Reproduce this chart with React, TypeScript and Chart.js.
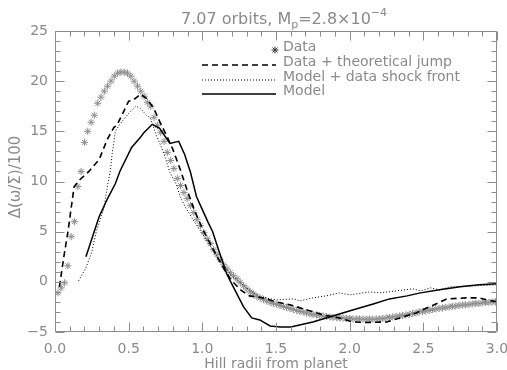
import React, { useEffect, useRef } from 'react';
import { Chart, registerables } from 'chart.js';

Chart.register(...registerables);

// ---- data ----
const DATA_X = [
  0.020, 0.042, 0.065, 0.087, 0.110, 0.132, 0.155, 0.177, 0.200, 0.222,
  0.245, 0.267, 0.290, 0.312, 0.335, 0.357, 0.380, 0.402, 0.425, 0.447,
  0.470, 0.492, 0.515, 0.537, 0.560, 0.582, 0.605, 0.627, 0.650, 0.672,
  0.695, 0.717, 0.740, 0.762, 0.785, 0.807, 0.830, 0.852, 0.875, 0.897,
  0.920, 0.942, 0.965, 0.987, 1.010, 1.032, 1.055, 1.077, 1.100, 1.122,
  1.145, 1.167, 1.190, 1.212, 1.235, 1.257, 1.280, 1.302, 1.325, 1.347,
  1.370, 1.392, 1.415, 1.437, 1.460, 1.482, 1.505, 1.527, 1.550, 1.572,
  1.595, 1.617, 1.640, 1.662, 1.685, 1.707, 1.730, 1.752, 1.775, 1.797,
  1.820, 1.842, 1.865, 1.887, 1.910, 1.932, 1.955, 1.977, 2.000, 2.022,
  2.045, 2.067, 2.090, 2.112, 2.135, 2.157, 2.180, 2.202, 2.225, 2.247,
  2.270, 2.292, 2.315, 2.337, 2.360, 2.382, 2.405, 2.427, 2.450, 2.472,
  2.495, 2.517, 2.540, 2.562, 2.585, 2.607, 2.630, 2.652, 2.675, 2.697,
  2.720, 2.742, 2.765, 2.787, 2.810, 2.832, 2.855, 2.877, 2.900, 2.922,
  2.945, 2.967, 2.990,
];
const DATA_Y = [
  -1.1, -0.6, -0.1, 1.6, 4.5, 6.0, 9.5, 11.0, 13.9, 15.0,
  15.9, 16.6, 17.8, 18.4, 19.0, 19.5, 20.0, 20.5, 20.8, 20.9,
  20.9, 20.8, 20.5, 20.0, 19.5, 19.0, 18.5, 17.9, 17.5, 16.4,
  15.6, 14.9, 14.0, 12.9, 12.1, 11.3, 10.3, 9.6, 8.9, 8.3,
  7.6, 6.9, 6.2, 5.6, 4.9, 4.3, 3.8, 3.2, 2.7, 2.2,
  1.7, 1.3, 0.9, 0.6, 0.3, -0.05, -0.4, -0.7, -1.0, -1.2,
  -1.45, -1.6, -1.75, -1.9, -2.05, -2.15, -2.25, -2.35, -2.45, -2.55,
  -2.65, -2.75, -2.85, -2.95, -3.0, -3.1, -3.2, -3.25, -3.3, -3.35,
  -3.4, -3.45, -3.5, -3.55, -3.55, -3.6, -3.6, -3.65, -3.65, -3.7,
  -3.7, -3.7, -3.72, -3.72, -3.72, -3.72, -3.7, -3.7, -3.65, -3.6,
  -3.55, -3.5, -3.45, -3.4, -3.35, -3.3, -3.25, -3.15, -3.1, -3.0,
  -2.95, -2.9, -2.85, -2.75, -2.7, -2.65, -2.6, -2.55, -2.5, -2.45,
  -2.4, -2.35, -2.3, -2.3, -2.25, -2.2, -2.15, -2.15, -2.1, -2.05,
  -2.05, -2.0, -2.0,
];

const JUMP_X = [
  0.03, 0.06, 0.09, 0.11, 0.13, 0.17, 0.23, 0.30, 0.355, 0.40,
  0.42, 0.46, 0.50, 0.53, 0.58, 0.62, 0.67, 0.71, 0.76, 0.80,
  0.85, 0.90, 0.95, 1.00, 1.05, 1.10, 1.15, 1.20, 1.26, 1.32,
  1.41, 1.50, 1.60, 1.71, 1.82, 1.93, 2.02, 2.12, 2.25, 2.34,
  2.45, 2.57, 2.66, 2.79, 2.88, 2.93, 3.00,
];
const JUMP_Y = [
  -0.5, 2.5, 5.2, 7.4, 9.5, 10.2, 11.0, 12.2, 14.2, 15.4,
  15.6, 16.8, 18.0, 18.1, 18.7, 18.3, 17.3, 16.0, 14.5, 13.2,
  11.2, 9.0, 7.0, 5.3, 3.9, 2.5, 1.2, 0.1, -0.8, -1.4,
  -1.6, -2.0, -2.3, -2.8, -3.3, -3.6, -4.0, -4.05, -4.0, -3.6,
  -3.1, -2.3, -1.7, -1.6, -1.6, -1.8, -2.0,
];

const SHOCK_X = [
  0.16, 0.21, 0.25, 0.28, 0.33, 0.36, 0.375, 0.39, 0.41, 0.44,
  0.50, 0.55, 0.58, 0.62, 0.645, 0.69, 0.72, 0.75, 0.78, 0.82,
  0.85, 0.89, 0.95, 1.00, 1.10, 1.20, 1.30, 1.39, 1.50, 1.62,
  1.66, 1.75, 1.84, 1.93, 2.00, 2.14, 2.20, 2.32, 2.43, 2.48,
  2.55, 2.61, 2.68, 2.84, 3.00,
];
const SHOCK_Y = [
  0.1, 1.4, 3.0, 5.0, 7.2, 9.9, 11.0, 13.0, 15.0, 15.7,
  16.8, 17.5, 17.3, 16.6, 16.4, 14.5, 13.5, 12.3, 10.9, 9.8,
  8.5, 7.3, 5.9, 4.8, 2.5, 0.6, -0.6, -1.5, -1.8, -1.7,
  -1.9, -1.6, -1.4, -1.1, -1.3, -1.0, -1.1, -0.9, -0.7, -0.9,
  -0.6, -0.8, -0.5, -0.4, -0.3,
];

const MODEL_X = [
  0.21, 0.30, 0.36, 0.41, 0.44, 0.52, 0.58, 0.60, 0.66, 0.71,
  0.78, 0.84, 0.88, 0.92, 0.96, 1.00, 1.04, 1.07, 1.11, 1.165,
  1.21, 1.28, 1.335, 1.39, 1.46, 1.53, 1.60, 1.66, 1.75, 1.84,
  1.93, 2.02, 2.16, 2.27, 2.39, 2.48, 2.61, 2.75, 2.88, 3.00,
];
const MODEL_Y = [
  2.5, 6.5, 8.4, 9.8, 11.0, 13.4, 14.4, 14.8, 15.7, 15.3,
  13.8, 14.0, 12.7, 10.9, 8.5, 7.2, 5.9, 5.0, 3.2, 0.8,
  -0.5, -2.5, -3.6, -3.8, -4.4, -4.5, -4.5, -4.3, -4.0, -3.6,
  -3.2, -2.8, -2.2, -1.7, -1.4, -1.1, -0.8, -0.5, -0.3, -0.2,
];

const X_MIN = 0, X_MAX = 3, X_STEP = 0.5;
const Y_MIN = -5, Y_MAX = 25, Y_STEP = 5;
const X_MINOR = 0.1, Y_MINOR = 1;

const TITLE_MAIN = '7.07 orbits, M';
const TITLE_SUB = 'p';
const TITLE_REST = '=2.8×10';
const TITLE_SUP = '−4';
const X_TITLE = 'Hill radii from planet';
const Y_TITLE = 'Δ(ω/Σ)/100';
const LEGEND_LABELS = ['Data', 'Data + theoretical jump', 'Model + data shock front', 'Model'];

const GRAY = '#8a8a8a';
const AXIS = '#8c8c8c';
const FONT = '"DejaVu Sans", sans-serif';

const pts = (xs: number[], ys: number[]) => xs.map((x, i) => ({ x, y: ys[i] }));

function drawStar(ctx: CanvasRenderingContext2D, x: number, y: number, r: number) {
  ctx.beginPath();
  ctx.moveTo(x - r, y); ctx.lineTo(x + r, y);
  ctx.moveTo(x, y - r); ctx.lineTo(x, y + r);
  const d = r * 0.7071;
  ctx.moveTo(x - d, y - d); ctx.lineTo(x + d, y + d);
  ctx.moveTo(x - d, y + d); ctx.lineTo(x + d, y - d);
  ctx.stroke();
}

const framePlugin = {
  id: 'idlFrame',
  afterDraw(chart: any) {
    const ctx: CanvasRenderingContext2D = chart.ctx;
    const { left, right, top, bottom } = chart.chartArea;
    const xs = chart.scales.x, ys = chart.scales.y;
    ctx.save();
    ctx.setLineDash([]);
    ctx.globalAlpha = 1;
    ctx.strokeStyle = AXIS;
    ctx.lineWidth = 1;
    const L = Math.round(left) + 0.5, R = Math.round(right) - 0.5;
    const T = Math.round(top) + 0.5, B = Math.round(bottom) - 0.5;
    ctx.beginPath();
    ctx.moveTo(L, T); ctx.lineTo(R, T); ctx.lineTo(R, B); ctx.lineTo(L, B); ctx.closePath();
    const nx = Math.round((X_MAX - X_MIN) / X_MINOR);
    for (let i = 0; i <= nx; i++) {
      const v = X_MIN + i * X_MINOR;
      const px = Math.round(xs.getPixelForValue(v)) + 0.5;
      const len = i % Math.round(X_STEP / X_MINOR) === 0 ? 9 : 5;
      ctx.moveTo(px, B); ctx.lineTo(px, B - len);
      ctx.moveTo(px, T); ctx.lineTo(px, T + len);
    }
    const ny = Math.round((Y_MAX - Y_MIN) / Y_MINOR);
    for (let i = 0; i <= ny; i++) {
      const v = Y_MIN + i * Y_MINOR;
      const py = Math.round(ys.getPixelForValue(v)) + 0.5;
      const len = i % Math.round(Y_STEP / Y_MINOR) === 0 ? 9 : 5;
      ctx.moveTo(L, py); ctx.lineTo(L + len, py);
      ctx.moveTo(R, py); ctx.lineTo(R - len, py);
    }
    ctx.stroke();

    // title with subscript / superscript
    ctx.fillStyle = GRAY;
    ctx.textBaseline = 'alphabetic';
    ctx.textAlign = 'left';
    const big = `16px ${FONT}`, small = `11px ${FONT}`;
    ctx.font = big; const w1 = ctx.measureText(TITLE_MAIN).width; const w3 = ctx.measureText(TITLE_REST).width;
    ctx.font = small; const w2 = ctx.measureText(TITLE_SUB).width; const w4 = ctx.measureText(TITLE_SUP).width;
    const total = w1 + w2 + w3 + w4;
    let tx = (left + right) / 2 - total / 2 + 8;
    const ty = 24;
    ctx.font = big; ctx.fillText(TITLE_MAIN, tx, ty); tx += w1;
    ctx.font = small; ctx.fillText(TITLE_SUB, tx, ty + 4); tx += w2;
    ctx.font = big; ctx.fillText(TITLE_REST, tx, ty); tx += w3;
    ctx.font = small; ctx.fillText(TITLE_SUP, tx, ty - 8);

    // axis titles
    ctx.font = `14px ${FONT}`;
    ctx.textAlign = 'center';
    ctx.textBaseline = 'middle';
    ctx.fillText(X_TITLE, (left + right) / 2, 364);
    ctx.save();
    ctx.translate(16, 177);
    ctx.rotate(-Math.PI / 2);
    ctx.font = `15px ${FONT}`;
    ctx.fillText(Y_TITLE, 0, 0);
    ctx.restore();

    // legend
    const lx0 = 202, lx1 = 276, tx0 = 283;
    const rows = [47, 62, 77, 91];
    ctx.font = `14px ${FONT}`;
    ctx.textAlign = 'left';
    ctx.textBaseline = 'middle';
    ctx.fillStyle = GRAY;
    LEGEND_LABELS.forEach((lab, i) => ctx.fillText(lab, tx0, rows[i]));
    ctx.strokeStyle = '#333';
    ctx.lineWidth = 1;
    drawStar(ctx, 275, rows[0] + 3, 3.5);
    ctx.strokeStyle = '#000';
    ctx.lineWidth = 1.6;
    ctx.setLineDash([6, 4]);
    ctx.beginPath(); ctx.moveTo(lx0, rows[1] + 3); ctx.lineTo(lx1, rows[1] + 3); ctx.stroke();
    ctx.lineWidth = 1;
    ctx.setLineDash([1, 2]);
    ctx.beginPath(); ctx.moveTo(lx0, rows[2] + 3); ctx.lineTo(lx1, rows[2] + 3); ctx.stroke();
    ctx.lineWidth = 1.5;
    ctx.setLineDash([]);
    ctx.beginPath(); ctx.moveTo(lx0, rows[3] + 3); ctx.lineTo(lx1, rows[3] + 3); ctx.stroke();
    ctx.restore();
  },
};

export default function App() {
  const ref = useRef<HTMLCanvasElement | null>(null);
  useEffect(() => {
    if (!ref.current) return;
    const chart = new Chart(ref.current, {
      type: 'line',
      data: {
        datasets: [
          {
            label: LEGEND_LABELS[0],
            data: pts(DATA_X, DATA_Y),
            showLine: false,
            pointStyle: 'star',
            pointRadius: 3.6,
            pointBorderWidth: 1,
            pointBorderColor: '#8e8e8e',
            pointBackgroundColor: 'rgba(0,0,0,0)',
            borderColor: '#8e8e8e',
            order: 4,
          },
          {
            label: LEGEND_LABELS[1],
            data: pts(JUMP_X, JUMP_Y),
            borderColor: '#000',
            borderWidth: 1.6,
            borderDash: [6, 4],
            pointRadius: 0,
            tension: 0,
            order: 2,
          },
          {
            label: LEGEND_LABELS[2],
            data: pts(SHOCK_X, SHOCK_Y),
            borderColor: '#000',
            borderWidth: 1,
            borderDash: [1, 2],
            pointRadius: 0,
            tension: 0,
            order: 3,
          },
          {
            label: LEGEND_LABELS[3],
            data: pts(MODEL_X, MODEL_Y),
            borderColor: '#000',
            borderWidth: 1.5,
            pointRadius: 0,
            tension: 0,
            order: 1,
          },
        ],
      },
      options: {
        responsive: false,
        animation: false,
        events: [],
        layout: { padding: { top: 31, right: 10, left: 0, bottom: 0 } },
        plugins: { legend: { display: false }, tooltip: { enabled: false }, title: { display: false } },
        scales: {
          x: {
            type: 'linear',
            min: X_MIN,
            max: X_MAX,
            grid: { display: false, drawTicks: false },
            border: { display: false },
            ticks: {
              stepSize: X_STEP,
              color: GRAY,
              font: { family: FONT, size: 14 },
              padding: 9,
              maxRotation: 0,
              callback: (v: any) => Number(v).toFixed(1),
            },
            afterFit: (s: any) => { s.height = 38; s.paddingLeft = 0; s.paddingRight = 0; },
          },
          y: {
            type: 'linear',
            min: Y_MIN,
            max: Y_MAX,
            grid: { display: false, drawTicks: false },
            border: { display: false },
            ticks: {
              stepSize: Y_STEP,
              color: GRAY,
              font: { family: FONT, size: 14 },
              padding: 7,
              callback: (v: any) => (Number(v) < 0 ? '−' + Math.abs(Number(v)) : String(v)),
            },
            afterFit: (s: any) => { s.width = 55; s.paddingTop = 0; s.paddingBottom = 0; },
          },
        },
      },
      plugins: [framePlugin],
    });
    return () => chart.destroy();
  }, []);
  return (
    <div style={{ position: 'fixed', left: 0, top: 0, width: 507, height: 370, background: '#fff' }}>
      <canvas ref={ref} width={507} height={370} />
    </div>
  );
}
